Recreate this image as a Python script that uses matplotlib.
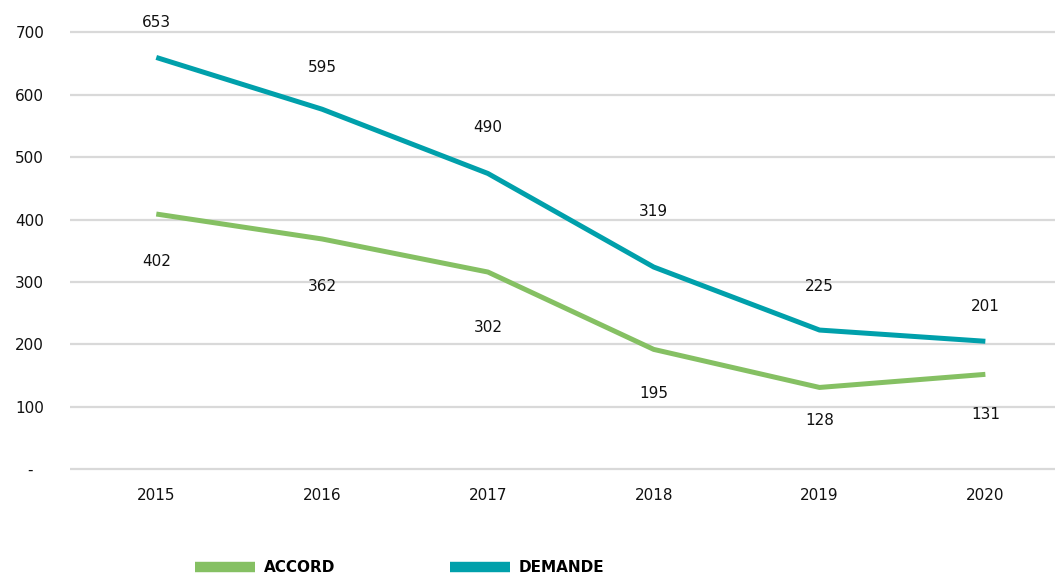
import matplotlib.pyplot as plt
from matplotlib.lines import Line2D

years = ["2015", "2016", "2017", "2018", "2019", "2020"]
accord = [409, 369, 316, 192, 131, 152]
demande = [660, 577, 474, 324, 223, 205]
accord_labels = ["402", "362", "302", "195", "128", "131"]
demande_labels = ["653", "595", "490", "319", "225", "201"]
yticks = [0, 100, 200, 300, 400, 500, 600, 700]
ytick_labels = ["-", "100", "200", "300", "400", "500", "600", "700"]

# label offsets in points (labels sit loosely above / below the lines)
demande_off = [25, 30, 33, 40, 31, 25]
accord_off = [-34, -34, -40, -32, -24, -29]

green = "#85c063"
teal = "#00a0ab"

plt.rcParams["font.family"] = ["DejaVu Sans"]

fig = plt.figure(figsize=(10.55, 5.75), dpi=100)
ax = fig.add_axes([0.0664, 0.1808, 0.9336, 0.7844])

x = range(len(years))
ax.plot(x, accord, color=green, lw=3.6, solid_capstyle="butt", zorder=3)
ax.plot(x, demande, color=teal, lw=3.6, solid_capstyle="butt", zorder=3)

for i in x:
    ax.annotate(demande_labels[i], (i, demande[i]), xytext=(0, demande_off[i]),
                textcoords="offset points", ha="center", va="center",
                fontsize=11, color="#111111")
    ax.annotate(accord_labels[i], (i, accord[i]), xytext=(0, accord_off[i]),
                textcoords="offset points", ha="center", va="center",
                fontsize=11, color="#111111")

ax.set_xlim(-0.52, 5.42)
ax.set_ylim(-3, 720)
ax.set_xticks(list(x))
ax.set_xticklabels(years, fontsize=11, color="#111111")
ax.set_yticks(yticks)
ax.set_yticklabels(ytick_labels, fontsize=11, color="#111111", ha="center")
ax.tick_params(axis="y", length=0, pad=29)
ax.tick_params(axis="x", length=0, pad=12.5)
ax.grid(axis="y", color="#d9d9d9", lw=1.6)
ax.set_axisbelow(True)
for s in ax.spines.values():
    s.set_visible(False)

handles = [Line2D([], [], color=green, lw=7.5, solid_capstyle="butt"),
           Line2D([], [], color=teal, lw=7.5, solid_capstyle="butt")]
fig.legend(handles, ["ACCORD", "DEMANDE"], loc="center",
           bbox_to_anchor=(0.379, 0.013), ncol=2, frameon=False,
           handlelength=3.9, columnspacing=7.5, handletextpad=0.6,
           prop={"size": 11, "weight": "bold"})

fig.savefig("out.png", dpi=100)
